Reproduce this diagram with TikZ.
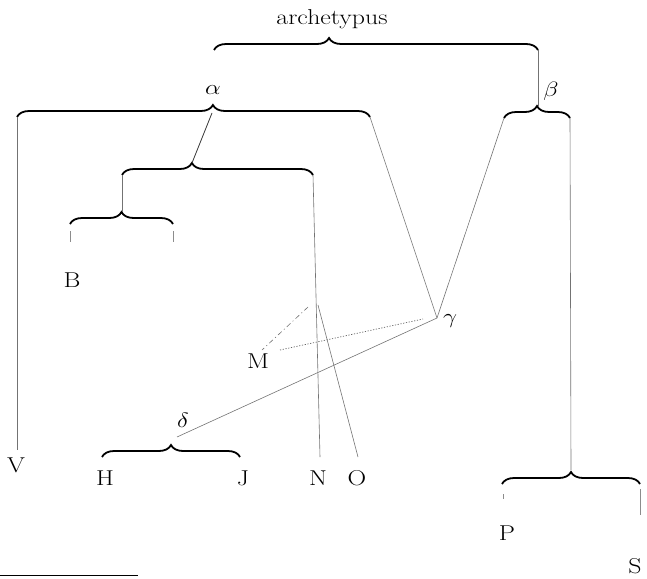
\documentclass[tikz,border=0pt]{standalone}
\usepackage{graphicx}
\usetikzlibrary{decorations.pathreplacing}
\newcommand\lblbox[1]{\scalebox{1.2}[1]{#1}}
\begin{document}
\begin{tikzpicture}[x=1pt,y=-1pt,
  lbl/.style={inner sep=0pt, font=\fontsize{21.5}{24}\selectfont},
  bracepath/.style={decorate, line width=1.8pt, decoration={brace, amplitude=12pt, aspect=#1}},
  bracepath/.default=0.5,
  conn/.style={line width=0.6pt, black!55},
  dashdotconn/.style={line width=0.6pt, black!55, dash pattern=on 5pt off 3pt on 1pt off 3pt},
  dotconn/.style={line width=0.7pt, black!60, dash pattern=on 1.2pt off 1.6pt},
  tickline/.style={line width=0.6pt, black!45}]
\useasboundingbox (0,0) rectangle (647,578);

% labels
\node[lbl] (arch) at (332,19) {\lblbox{archetypus}};
\node[lbl] (alpha) at (213,90) {\lblbox{$\alpha$}};
\node[lbl] (beta) at (551,91) {\lblbox{$\beta$}};
\node[lbl] (gamma) at (450,321) {\lblbox{$\gamma$}};
\node[lbl] (delta) at (183,420) {\lblbox{$\delta$}};
\node[lbl] (V) at (16,465) {\lblbox{V}};
\node[lbl] (B) at (72,280) {\lblbox{B}};
\node[lbl] (M) at (258,361) {\lblbox{M}};
\node[lbl] (H) at (105,478) {\lblbox{H}};
\node[lbl] (J) at (243,478) {\lblbox{J}};
\node[lbl] (N) at (318,478) {\lblbox{N}};
\node[lbl] (O) at (357,478) {\lblbox{O}};
\node[lbl] (P) at (507,533) {\lblbox{P}};
\node[lbl] (S) at (635,566) {\lblbox{S}};

% brace ends and tips
\coordinate (topL) at (214,50);
\coordinate (topR) at (538,50);
\coordinate (betaTip) at (538,106);
\coordinate (betaL) at (504,118);
\coordinate (betaR) at (570,118);
\coordinate (alphaL) at (17,117);
\coordinate (alphaR) at (370,117);
\coordinate (alphaFoot) at (212,113);
\coordinate (secL) at (122,175);
\coordinate (secR) at (313,175);
\coordinate (secTip) at (192,163);
\coordinate (bTip) at (122,212);
\coordinate (bL) at (70,224);
\coordinate (bR) at (173,224);
\coordinate (bLs) at (70,231);
\coordinate (bRs) at (173,231);
\coordinate (bLt) at (70,242);
\coordinate (bRt) at (173,242);
\coordinate (vEnd) at (17,450);
\coordinate (nEnd) at (320,457);
\coordinate (oEnd) at (358,457);
\coordinate (oStart) at (318,305);
\coordinate (xM) at (308,307);
\coordinate (mTop) at (262,350);
\coordinate (mDot) at (280,350);
\coordinate (gDot) at (423,319);
\coordinate (gApex) at (437,318);
\coordinate (dFoot) at (177,437);
\coordinate (dL) at (102,457);
\coordinate (dR) at (240,457);
\coordinate (psTip) at (571,470);
\coordinate (psL) at (502,484);
\coordinate (psR) at (640,484);
\coordinate (pT1) at (503,494);
\coordinate (pT2) at (503,499);
\coordinate (sT1) at (640,489);
\coordinate (sT2) at (640,515);
\coordinate (ruleL) at (0,575);
\coordinate (ruleR) at (138,575);

% braces
\draw[bracepath=0.355] (topL) -- (topR);
\draw[bracepath=0.555] (alphaL) -- (alphaR);
\draw[bracepath=0.5] (betaL) -- (betaR);
\draw[bracepath=0.366] (secL) -- (secR);
\draw[bracepath=0.5] (bL) -- (bR);
\draw[bracepath=0.5] (dL) -- (dR);
\draw[bracepath=0.5] (psL) -- (psR);

% connectors
\draw[conn] (topR) -- (betaTip);
\draw[conn] (alphaL) -- (vEnd);
\draw[conn, line width=0.8pt, black!80] (alphaFoot) -- (secTip);
\draw[conn] (alphaR) -- (gApex);
\draw[conn] (betaL) -- (gApex);
\draw[conn] (gApex) -- (dFoot);
\draw[conn] (secL) -- (bTip);
\draw[tickline] (bLs) -- (bLt);
\draw[tickline] (bRs) -- (bRt);
\draw[conn] (secR) -- (nEnd);
\draw[conn] (oStart) -- (oEnd);
\draw[dashdotconn] (xM) -- (mTop);
\draw[dotconn] (mDot) -- (gDot);
\draw[conn] (betaR) -- (psTip);
\draw[tickline] (pT1) -- (pT2);
\draw[tickline] (sT1) -- (sT2);
\draw[line width=0.8pt] (ruleL) -- (ruleR);
\end{tikzpicture}
\end{document}
